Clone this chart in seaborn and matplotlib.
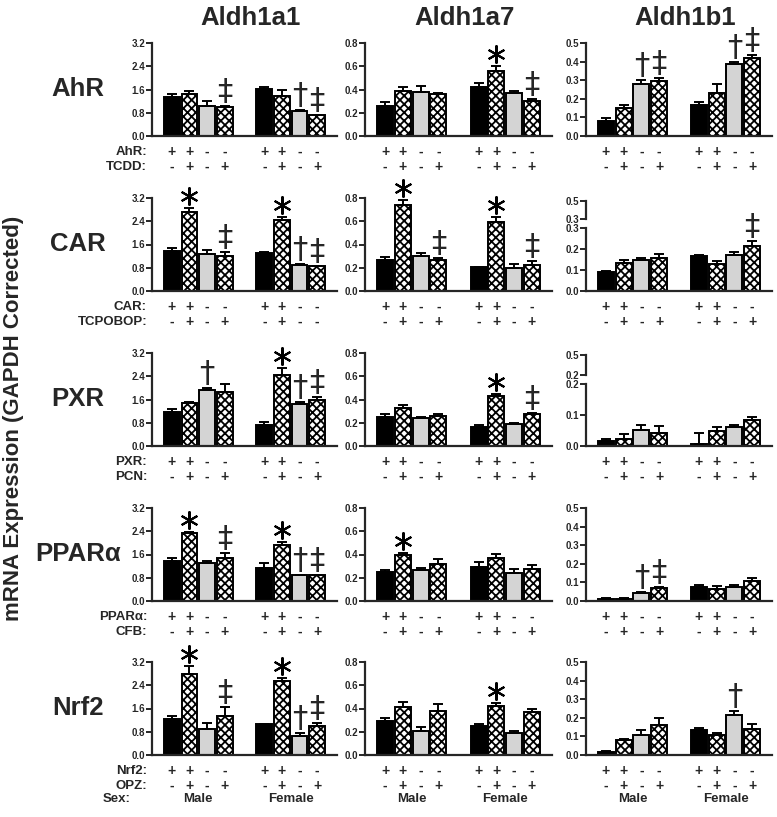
import numpy as np
import pandas as pd
import matplotlib
matplotlib.use('Agg')
import matplotlib.pyplot as plt
import matplotlib.transforms as mtransforms
import seaborn as sns

# ---- data (mean, SEM) ----
genes = ['Aldh1a1', 'Aldh1a7', 'Aldh1b1']
receptors = ['AhR', 'CAR', 'PXR', 'PPARα', 'Nrf2']
ligands = ['TCDD', 'TCPOBOP', 'PCN', 'CFB', 'OPZ']
sexes = ['Male', 'Female']
groups = ['WT vehicle', 'WT ligand', 'Null vehicle', 'Null ligand']

receptor_signs = ['+', '+', '-', '-', '+', '+', '-', '-']
ligand_signs = ['-', '+', '-', '+', '-', '+', '-', '+']
car_aldh1a1_ligand_signs = ['-', '+', '-', '+', '-', '+', '-', '-']

ahr_mean = [[1.35, 1.44, 1.03, 1.00, 1.61, 1.38, 0.87, 0.71],
            [0.26, 0.39, 0.38, 0.36, 0.42, 0.56, 0.37, 0.30],
            [0.083, 0.151, 0.281, 0.295, 0.165, 0.232, 0.385, 0.421]]
ahr_sem = [[0.09, 0.10, 0.16, 0.03, 0.08, 0.20, 0.02, 0.02],
           [0.03, 0.03, 0.05, 0.01, 0.04, 0.04, 0.02, 0.02],
           [0.014, 0.014, 0.02, 0.015, 0.018, 0.045, 0.012, 0.012]]
ahr_sig = [['', '', '', '‡', '', '', '†', '‡'],
           ['', '', '', '', '', '*', '', '‡'],
           ['', '', '†', '‡', '', '', '†', '‡']]

car_mean = [[1.36, 2.72, 1.28, 1.21, 1.32, 2.44, 0.91, 0.85],
            [0.265, 0.74, 0.30, 0.27, 0.204, 0.59, 0.20, 0.224],
            [0.091, 0.132, 0.149, 0.156, 0.169, 0.128, 0.173, 0.215]]
car_sem = [[0.12, 0.12, 0.12, 0.13, 0.02, 0.10, 0.03, 0.02],
           [0.025, 0.04, 0.03, 0.015, 0.006, 0.046, 0.03, 0.032],
           [0.005, 0.018, 0.008, 0.021, 0.004, 0.013, 0.013, 0.024]]
car_sig = [['', '*', '', '‡', '', '*', '†', '‡'],
           ['', '*', '', '‡', '', '*', '', '‡'],
           ['', '', '', '', '', '', '', '‡']]

pxr_mean = [[1.18, 1.48, 1.91, 1.87, 0.72, 2.45, 1.46, 1.57],
            [0.246, 0.33, 0.243, 0.261, 0.16, 0.429, 0.188, 0.275],
            [0.015, 0.024, 0.053, 0.041, 0.005, 0.048, 0.061, 0.084]]
pxr_sem = [[0.11, 0.05, 0.10, 0.25, 0.10, 0.23, 0.07, 0.12],
           [0.029, 0.024, 0.009, 0.014, 0.02, 0.017, 0.006, 0.009],
           [0.009, 0.014, 0.015, 0.025, 0.036, 0.012, 0.006, 0.011]]
pxr_sig = [['', '', '†', '', '', '*', '†', '‡'],
           ['', '', '', '', '', '*', '', '‡'],
           ['', '', '', '', '', '', '', '']]

ppara_mean = [[1.39, 2.34, 1.31, 1.49, 1.14, 1.92, 0.88, 0.88],
              [0.25, 0.40, 0.27, 0.32, 0.294, 0.368, 0.243, 0.277],
              [0.011, 0.009, 0.045, 0.07, 0.073, 0.066, 0.073, 0.105]]
ppara_sem = [[0.10, 0.02, 0.08, 0.16, 0.17, 0.11, 0.03, 0.02],
             [0.016, 0.017, 0.01, 0.04, 0.043, 0.038, 0.031, 0.029],
             [0.005, 0.007, 0.005, 0.003, 0.015, 0.016, 0.015, 0.02]]
ppara_sig = [['', '*', '', '‡', '', '*', '†', '‡'],
             ['', '*', '', '', '', '', '', ''],
             ['', '', '†', '‡', '', '', '', '']]

nrf2_mean = [[1.25, 2.80, 0.90, 1.35, 1.05, 2.55, 0.65, 1.00],
             [0.29, 0.41, 0.21, 0.38, 0.25, 0.42, 0.19, 0.37],
             [0.015, 0.08, 0.11, 0.16, 0.135, 0.11, 0.215, 0.14]]
nrf2_sem = [[0.10, 0.25, 0.20, 0.30, 0.03, 0.10, 0.10, 0.10],
            [0.03, 0.05, 0.03, 0.06, 0.02, 0.03, 0.02, 0.03],
            [0.005, 0.005, 0.025, 0.04, 0.01, 0.01, 0.02, 0.025]]
nrf2_sig = [['', '*', '', '‡', '', '*', '†', '‡'],
            ['', '', '', '', '', '*', '', ''],
            ['', '', '', '', '', '', '†', '']]

row_means = [ahr_mean, car_mean, pxr_mean, ppara_mean, nrf2_mean]
row_sems = [ahr_sem, car_sem, pxr_sem, ppara_sem, nrf2_sem]
row_sigs = [ahr_sig, car_sig, pxr_sig, ppara_sig, nrf2_sig]

bar_colors = {'WT vehicle': 'black', 'WT ligand': 'white',
              'Null vehicle': '#d4d4d4', 'Null ligand': 'white'}
hatched = ['WT ligand', 'Null ligand']

# ---- style ----
sns.set_style('ticks')
plt.rcParams['font.family'] = ['Liberation Sans', 'DejaVu Sans']
plt.rcParams['font.weight'] = 'bold'
plt.rcParams['hatch.linewidth'] = 1.3

W, H = 777, 817
fig = plt.figure(figsize=(W / 100, H / 100), dpi=100)

col_left = [152, 365, 586]
col_width = [185, 187, 186]
row_top = [43, 198, 353, 508, 662]
row_h = 93


def px_axes(left, top, width, height):
    return fig.add_axes([left / W, 1 - (top + height) / H, width / W, height / H])


def style_axis(ax, ylim, yticks, fmt):
    ax.set_ylim(*ylim)
    ax.set_yticks(yticks)
    ax.set_yticklabels([fmt.format(t) for t in yticks])
    ax.set_xticks([])
    ax.set_xlabel('')
    ax.set_ylabel('')
    sns.despine(ax=ax)
    for s in ['left', 'bottom']:
        ax.spines[s].set_linewidth(1.6)
    ax.tick_params(axis='y', length=4, width=1.4, labelsize=7, pad=1)
    ax.patch.set_alpha(0)


def draw_panel(ax, means, sems, sig):
    df = pd.DataFrame({'sex': np.repeat(sexes, 4), 'group': groups * 2, 'value': means})
    sns.barplot(data=df, x='sex', y='value', hue='group', order=sexes, hue_order=groups,
                palette=bar_colors, errorbar=None, width=0.76, gap=0.1,
                edgecolor='black', linewidth=1.4, legend=False, ax=ax)
    for g, cont in zip(groups, ax.containers):
        if g in hatched:
            for p in cont:
                p.set_hatch('xxxx')
    xs = [ax.containers[i % 4][i // 4].get_x() + ax.containers[i % 4][i // 4].get_width() / 2
          for i in range(8)]
    ax.errorbar(xs, means, yerr=[np.zeros(8), sems], fmt='none', ecolor='black',
                elinewidth=1.4, capsize=3.5, capthick=1.4, zorder=3)
    for x, m, e, s in zip(xs, means, sems, sig):
        if s == '*':
            tr = mtransforms.offset_copy(ax.transData, fig=fig, x=0, y=12, units='dots')
            ax.plot([x], [m + e], marker=(6, 2, 0), ms=13, mew=1.5, color='black',
                    transform=tr, clip_on=False)
        elif s:
            ax.annotate(s, xy=(x, m + e), xytext=(0, 0), textcoords='offset pixels',
                        ha='center', va='bottom', fontsize=22, fontweight='normal',
                        family='DejaVu Sans', annotation_clip=False)
    ax.set_xlim(-0.5, 1.5)
    return xs


for r in range(5):
    bottom = row_top[r] + row_h
    for c in range(3):
        means = row_means[r][c]
        sems = row_sems[r][c]
        sig = row_sigs[r][c]
        if c == 2 and r in (1, 2):
            # broken y-axis
            low_top = 0.3 if r == 1 else 0.2
            low_h = 63 if r == 1 else 62
            up_top = row_top[r] + 3 if r == 1 else row_top[r] + 2
            up_h = bottom - low_h - 9 - up_top
            ax = px_axes(col_left[c], bottom - low_h, col_width[c], low_h)
            xs = draw_panel(ax, means, sems, sig)
            style_axis(ax, (0, low_top), np.round(np.arange(0, low_top + 0.001, 0.1), 1), '{:.1f}')
            axu = px_axes(col_left[c], up_top, col_width[c], up_h)
            axu.set_xlim(-0.5, 1.5)
            style_axis(axu, (low_top, 0.5), [low_top, 0.5], '{:.1f}')
            axu.spines['bottom'].set_visible(False)
        else:
            ax = px_axes(col_left[c], row_top[r], col_width[c], row_h)
            xs = draw_panel(ax, means, sems, sig)
            if c == 0:
                style_axis(ax, (0, 3.2), [0, 0.8, 1.6, 2.4, 3.2], '{:.1f}')
            elif c == 1:
                style_axis(ax, (0, 0.8), [0, 0.2, 0.4, 0.6, 0.8], '{:.1f}')
            else:
                style_axis(ax, (0, 0.5), [0, 0.1, 0.2, 0.3, 0.4, 0.5], '{:.1f}')

        lig = car_aldh1a1_ligand_signs if (r == 1 and c == 0) else ligand_signs
        for x, s1, s2 in zip(xs, receptor_signs, lig):
            for s, dy in ((s1, -16), (s2, -31)):
                ax.annotate(s, xy=(x, 0), xycoords=('data', 'axes fraction'),
                            xytext=(0, dy), textcoords='offset pixels',
                            ha='center', va='center', fontsize=10, fontweight='bold')
        if r == 4:
            for gx, sx in enumerate(sexes):
                ax.annotate(sx, xy=(gx, 0), xycoords=('data', 'axes fraction'),
                            xytext=(0, -44), textcoords='offset pixels',
                            ha='center', va='center', fontsize=9.5, fontweight='bold')

    # row labels
    fig.text(78 / W, 1 - (row_top[r] + 46) / H, receptors[r], ha='center', va='center',
             fontsize=18.5, fontweight='bold')
    fig.text(147 / W, 1 - (bottom + 16) / H, receptors[r] + ':', ha='right', va='center',
             fontsize=9.5, fontweight='bold')
    fig.text(147 / W, 1 - (bottom + 31) / H, ligands[r] + ':', ha='right', va='center',
             fontsize=9.5, fontweight='bold')

fig.text(131 / W, 1 - (row_top[4] + row_h + 44) / H, 'Sex:', ha='right', va='center',
         fontsize=9.5, fontweight='bold')

for c, g in enumerate(genes):
    fig.text((col_left[c] + col_width[c] / 2 + 6) / W, 1 - 18 / H, g, ha='center',
             va='center', fontsize=18.5, fontweight='bold')

fig.text(14 / W, 1 - 418 / H, 'mRNA Expression (GAPDH Corrected)', rotation=90,
         ha='center', va='center', fontsize=16, fontweight='bold')

fig.savefig('out.png', dpi=100)
